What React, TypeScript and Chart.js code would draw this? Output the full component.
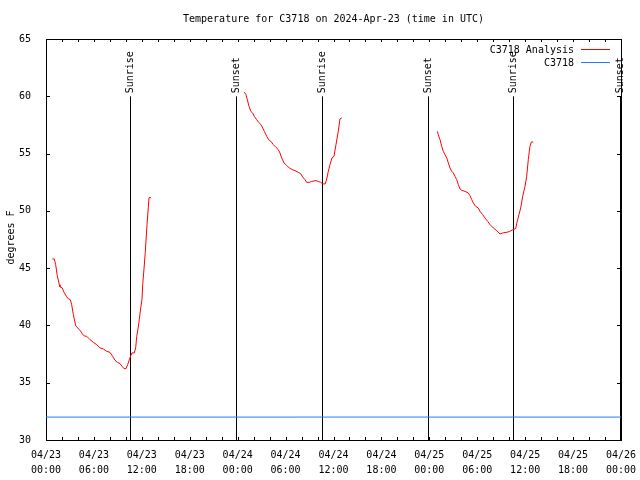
import React, { useEffect, useRef } from "react";
import { Chart, registerables } from "chart.js";

Chart.register(...registerables);

// ---- Data (hours since 2024-04-23 00:00 UTC, temperature °F) ----
const seg1Hours = [0.79, 1.04, 1.21, 1.41, 1.67, 1.75, 2.04, 2.25, 2.59, 2.84, 3.04, 3.22, 3.42, 3.72, 3.97, 4.26, 4.55, 4.8, 5.1, 5.51, 5.92, 6.35, 6.76, 7.18, 7.6, 8.01, 8.35, 8.64, 8.93, 9.27, 9.52, 9.77, 10.02, 10.23, 10.43, 10.61, 10.77, 11.06, 11.23, 11.36, 11.56, 11.68, 11.86, 12.02, 12.11, 12.27, 12.43, 12.65, 12.9, 13.15];
const seg1Temps = [45.8, 45.8, 45.3, 44.35, 43.56, 43.36, 43.27, 42.9, 42.5, 42.3, 42.25, 41.8, 40.95, 39.97, 39.78, 39.57, 39.26, 39.08, 39.05, 38.76, 38.53, 38.32, 38.04, 37.95, 37.74, 37.65, 37.3, 36.95, 36.78, 36.67, 36.43, 36.23, 36.23, 36.58, 37.0, 37.36, 37.6, 37.6, 38.04, 39.05, 39.87, 40.5, 41.53, 42.25, 43.56, 44.93, 46.38, 48.8, 51.15, 51.15];

const seg2Hours = [24.83, 25.04, 25.21, 25.42, 25.67, 25.88, 26.08, 26.38, 26.63, 26.92, 27.14, 27.34, 27.64, 27.89, 28.17, 28.46, 28.8, 29.09, 29.3, 29.51, 29.8, 30.14, 30.47, 30.84, 31.18, 31.59, 31.89, 32.14, 32.43, 32.64, 32.97, 33.27, 33.81, 34.1, 34.4, 34.65, 34.97, 35.15, 35.35, 35.56, 35.81, 36.06, 36.31, 36.6, 36.81, 37.03];
const seg2Temps = [60.38, 60.14, 59.7, 59.12, 58.66, 58.54, 58.25, 57.96, 57.72, 57.52, 57.23, 56.94, 56.5, 56.21, 56.06, 55.78, 55.54, 55.34, 55.05, 54.62, 54.18, 53.97, 53.74, 53.6, 53.51, 53.36, 53.25, 52.96, 52.72, 52.49, 52.49, 52.57, 52.64, 52.57, 52.49, 52.35, 52.35, 52.78, 53.45, 54.03, 54.62, 54.76, 55.78, 56.94, 58.02, 58.11];

const seg3Hours = [49.0, 49.12, 49.34, 49.55, 49.75, 49.96, 50.18, 50.38, 50.59, 50.8, 51.0, 51.22, 51.43, 51.63, 51.84, 52.06, 52.47, 52.88, 53.09, 53.31, 53.51, 53.81, 54.13, 54.34, 54.68, 54.97, 55.31, 55.6, 56.01, 56.44, 56.85, 57.19, 57.6, 58.01, 58.44, 58.81, 59.01, 59.22, 59.44, 59.69, 59.98, 60.19, 60.39, 60.6, 60.77, 61.02];
const seg3Temps = [56.94, 56.65, 56.21, 55.63, 55.19, 54.9, 54.62, 54.18, 53.74, 53.45, 53.31, 53.01, 52.72, 52.29, 51.91, 51.79, 51.7, 51.56, 51.33, 50.98, 50.69, 50.39, 50.25, 49.96, 49.67, 49.38, 49.08, 48.8, 48.51, 48.27, 47.98, 48.07, 48.12, 48.18, 48.36, 48.45, 49.08, 49.67, 50.25, 51.27, 52.14, 53.01, 54.47, 55.63, 56.01, 56.01];

const stationHours = [0, 72];
const stationTemps = [32, 32];

const sunHours = [10.5, 23.78, 34.54, 47.8, 58.45, 71.84];
const sunLabels = ["Sunrise", "Sunset", "Sunrise", "Sunset", "Sunrise", "Sunset"];
const sunLineTop = 60;

const xTickDates = ["04/23", "04/23", "04/23", "04/23", "04/24", "04/24", "04/24", "04/24", "04/25", "04/25", "04/25", "04/25", "04/26"];
const xTickTimes = ["00:00", "06:00", "12:00", "18:00", "00:00", "06:00", "12:00", "18:00", "00:00", "06:00", "12:00", "18:00", "00:00"];

const titleText = "Temperature for C3718 on 2024-Apr-23 (time in UTC)";
const yAxisLabel = "degrees F";
const legendLabels = ["C3718 Analysis", "C3718"];

const RED = "#ff0000";
const BLUE = "#1f7cff";
const FONT = "DejaVu Sans Mono";

function buildAnalysis() {
  const segs: [number[], number[]][] = [
    [seg1Hours, seg1Temps],
    [seg2Hours, seg2Temps],
    [seg3Hours, seg3Temps],
  ];
  const pts: { x: number; y: number | null }[] = [];
  segs.forEach(([hs, ts], i) => {
    if (i > 0) pts.push({ x: hs[0] - 0.01, y: null });
    hs.forEach((h, j) => pts.push({ x: h, y: ts[j] }));
  });
  return pts;
}

const overlayPlugin = {
  id: "overlay",
  beforeDatasetsDraw(chart: any) {
    const { ctx, chartArea: a, scales } = chart;
    const xs = scales.x;
    const ys = scales.y;
    ctx.save();
    ctx.strokeStyle = "#000";
    ctx.lineWidth = 1;
    ctx.strokeRect(a.left + 0.5, a.top + 0.5, a.right - a.left, a.bottom - a.top);
    ctx.beginPath();
    for (let h = 0; h <= 72; h += 2) {
      const px = Math.round(xs.getPixelForValue(h)) + 0.5;
      ctx.moveTo(px, a.bottom);
      ctx.lineTo(px, a.bottom - 3);
      ctx.moveTo(px, a.top);
      ctx.lineTo(px, a.top + 3);
    }
    for (let t = 30; t <= 65; t += 5) {
      const py = Math.round(ys.getPixelForValue(t)) + 0.5;
      ctx.moveTo(a.left, py);
      ctx.lineTo(a.left + 4, py);
      ctx.moveTo(a.right, py);
      ctx.lineTo(a.right - 4, py);
    }
    ctx.stroke();
    // sunrise / sunset lines
    const topPx = ys.getPixelForValue(sunLineTop);
    ctx.beginPath();
    sunHours.forEach((h) => {
      const px = Math.round(xs.getPixelForValue(h)) + 0.5;
      ctx.moveTo(px, topPx);
      ctx.lineTo(px, a.bottom);
    });
    ctx.stroke();
    ctx.fillStyle = "#000";
    ctx.font = `10px "${FONT}"`;
    ctx.textAlign = "left";
    ctx.textBaseline = "middle";
    sunHours.forEach((h, i) => {
      const px = Math.round(xs.getPixelForValue(h)) + 0.5;
      ctx.save();
      ctx.translate(px, topPx - 3);
      ctx.rotate(-Math.PI / 2);
      ctx.fillText(sunLabels[i], 0, 0);
      ctx.restore();
    });
    ctx.restore();
  },
  afterDraw(chart: any) {
    const { ctx, chartArea: a } = chart;
    ctx.save();
    ctx.fillStyle = "#000";
    ctx.font = `10px "${FONT}"`;
    ctx.textBaseline = "middle";
    ctx.textAlign = "center";
    ctx.fillText(titleText, (a.left + a.right) / 2, 19);
    ctx.save();
    ctx.translate(11, (a.top + a.bottom) / 2 - 2);
    ctx.rotate(-Math.PI / 2);
    ctx.fillText(yAxisLabel, 0, 0);
    ctx.restore();
    const colors = [RED, BLUE];
    legendLabels.forEach((lab, i) => {
      const yy = 50 + i * 13;
      ctx.textAlign = "right";
      ctx.fillStyle = "#000";
      ctx.fillText(lab, 574, yy);
      ctx.strokeStyle = colors[i];
      ctx.lineWidth = 1;
      ctx.beginPath();
      ctx.moveTo(581, yy - 0.5);
      ctx.lineTo(610, yy - 0.5);
      ctx.stroke();
    });
    ctx.restore();
  },
};

export default function App() {
  const ref = useRef<HTMLCanvasElement | null>(null);
  useEffect(() => {
    if (!ref.current) return;
    const chart = new Chart(ref.current, {
      type: "line",
      data: {
        datasets: [
          {
            label: legendLabels[0],
            data: buildAnalysis(),
            borderColor: RED,
            borderWidth: 1,
            pointRadius: 0,
            spanGaps: false,
            tension: 0,
          },
          {
            label: legendLabels[1],
            data: stationHours.map((h, i) => ({ x: h, y: stationTemps[i] })),
            borderColor: BLUE,
            borderWidth: 1,
            pointRadius: 0,
          },
        ],
      },
      options: {
        animation: false,
        responsive: false,
        devicePixelRatio: 1,
        layout: { padding: { top: 39, right: 19, left: 0, bottom: 0 } },
        plugins: {
          legend: { display: false },
          title: { display: false },
          tooltip: { enabled: false },
        },
        scales: {
          x: {
            type: "linear",
            min: 0,
            max: 72,
            grid: { display: false },
            border: { display: false },
            ticks: {
              stepSize: 6,
              autoSkip: false,
              maxRotation: 0,
              padding: 0,
              color: "#000",
              font: { family: FONT, size: 10, lineHeight: 1.5 },
              callback: (v: any) => {
                const i = Math.round(Number(v) / 6);
                return [xTickDates[i], xTickTimes[i]];
              },
            },
            afterFit: (s: any) => {
              s.height = 40;
            },
          },
          y: {
            min: 30,
            max: 65,
            grid: { display: false },
            border: { display: false },
            ticks: {
              stepSize: 5,
              padding: 7,
              color: "#000",
              font: { family: FONT, size: 10 },
            },
            afterFit: (s: any) => {
              s.width = 46;
            },
          },
        },
      },
      plugins: [overlayPlugin],
    } as any);
    return () => chart.destroy();
  }, []);
  return (
    <div style={{ position: "absolute", left: 0, top: 0, width: 640, height: 480, background: "#fff" }}>
      <canvas ref={ref} width={640} height={480} />
    </div>
  );
}
